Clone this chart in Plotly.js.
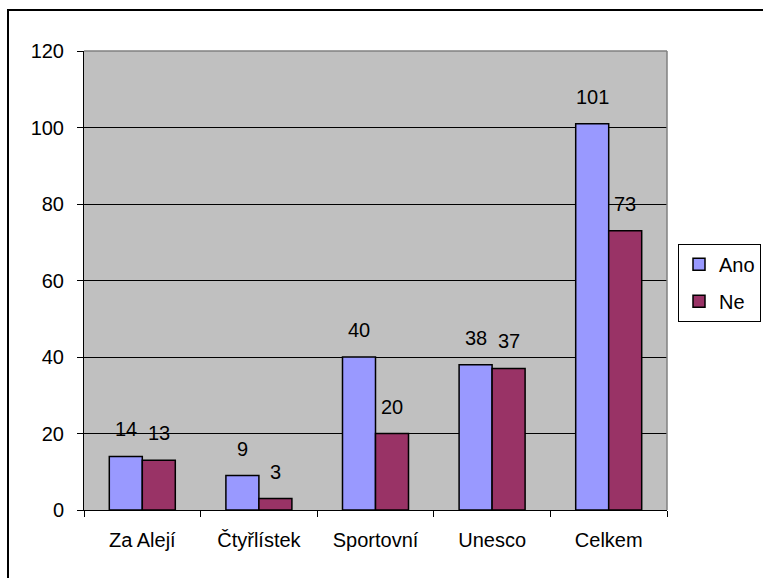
<!DOCTYPE html>
<html>
<head>
<meta charset="utf-8">
<script src="https://cdn.plot.ly/plotly-3.0.1.min.js"></script>
<style>
  html, body { margin: 0; padding: 0; background: #fff; }
  #wrap { position: relative; width: 763px; height: 578px; overflow: hidden; }
  #frame { position: absolute; left: 7px; top: 9px; width: 800px; height: 600px;
           border-left: 2px solid #000; border-top: 2px solid #000; box-sizing: border-box; pointer-events: none; z-index: 5; }
  #chart { position: absolute; left: 0; top: 0; width: 763px; height: 578px; }
</style>
</head>
<body>
<div id="wrap">
  <div id="chart"></div>
  <div id="frame"></div>
</div>
<script>
const categories = ["Za Alejí", "Čtyřlístek", "Sportovní", "Unesco", "Celkem"];
const ano = [14, 9, 40, 38, 101];
const ne = [13, 3, 20, 37, 73];
const seriesNames = ["Ano", "Ne"];
const yTicks = [0, 20, 40, 60, 80, 100, 120];

const font = { family: "Liberation Sans, Arial, sans-serif", size: 20, color: "#000" };

const W = 763, H = 578;
const margin = { l: 84, r: 96, t: 51, b: 68, autoexpand: false };
const bargap = 0.434;
const plotW = W - margin.l - margin.r;
const barPx = plotW / categories.length * (1 - bargap) / 2;

function barTrace(name, values, color, group) {
  return {
    type: "bar",
    name: name,
    x: categories,
    y: values,
    legendgroup: group,
    marker: { color: color, line: { color: "#000", width: 1.5 } },
    hoverinfo: "x+y"
  };
}

const data = [
  barTrace(seriesNames[0], ano, "#9999FF", "a"),
  barTrace(seriesNames[1], ne, "#993366", "b")
];

// data labels above each bar, offset to the bar centre of each group member
const annotations = [];
[ano, ne].forEach((vals, si) => {
  const dx = (si === 0 ? -1 : 1) * barPx / 2;
  vals.forEach((v, i) => {
    annotations.push({
      x: categories[i], y: v, xref: "x", yref: "y",
      text: String(v), showarrow: false,
      xanchor: "center", yanchor: "middle",
      xshift: dx, yshift: 27,
      font: font
    });
  });
});

const layout = {
  width: W,
  height: H,
  margin: margin,
  paper_bgcolor: "#ffffff",
  plot_bgcolor: "#C0C0C0",
  font: font,
  barmode: "group",
  bargap: bargap,
  bargroupgap: 0,
  showlegend: true,
  legend: {
    x: (761 - margin.l) / plotW, xanchor: "right",
    y: 0.58, yanchor: "top",
    bgcolor: "#ffffff",
    bordercolor: "#000",
    borderwidth: 1,
    font: font,
    traceorder: "grouped",
    tracegroupgap: 8,
    itemwidth: 30
  },
  annotations: annotations,
  xaxis: {
    type: "category",
    showline: true, linecolor: "#000", linewidth: 1,
    ticks: "outside", ticklen: 6, tickcolor: "#000", tickwidth: 1,
    tickson: "boundaries",
    ticklabelstandoff: 12,
    showgrid: false,
    zeroline: false,
    tickfont: font
  },
  yaxis: {
    range: [0, 120],
    tickvals: yTicks,
    ticktext: yTicks.map(String),
    showline: true, linecolor: "#000", linewidth: 1,
    ticks: "outside", ticklen: 6, tickcolor: "#000", tickwidth: 1,
    ticklabelstandoff: 9,
    showgrid: true, gridcolor: "#000", gridwidth: 1,
    zeroline: false,
    tickfont: font
  },
  shapes: [
    { type: "line", xref: "paper", yref: "paper", x0: 0, x1: 1, y0: 1, y1: 1,
      line: { color: "#808080", width: 1.5 }, layer: "above" },
    { type: "line", xref: "paper", yref: "paper", x0: 1, x1: 1, y0: 0, y1: 1,
      line: { color: "#808080", width: 1.5 }, layer: "above" }
  ]
};

Plotly.newPlot("chart", data, layout, { displayModeBar: false, staticPlot: true });
</script>
</body>
</html>
